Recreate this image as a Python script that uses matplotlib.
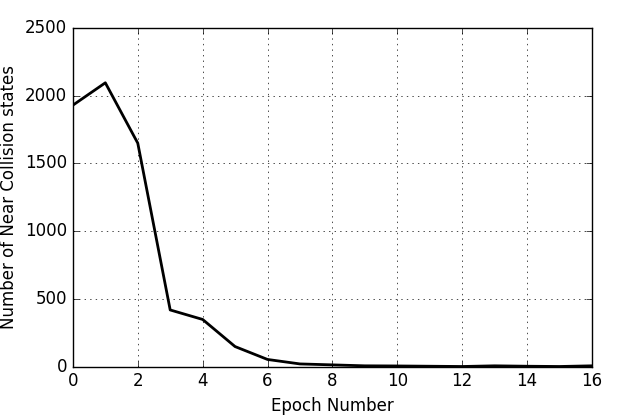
import numpy as np
import matplotlib
matplotlib.use('Agg')
import matplotlib.pyplot as plt

plt.style.use('classic')

#near collision states per epoch
epochs = list(range(17))
near_collision = [1930, 2095, 1650, 420, 350, 150, 55, 22, 15, 8, 7, 5, 3, 8, 5, 3, 8]

fig = plt.figure(figsize=(6.23, 4.16), dpi=100, facecolor='white')
ax = fig.add_subplot(111)
ax.plot(epochs, near_collision, color='black', linewidth=2)
ax.set_xlim(0, 16)
ax.set_ylim(0, 2500)
ax.set_xticks(range(0, 17, 2))
ax.set_yticks(range(0, 2501, 500))
ax.grid(True)
ax.set_xlabel('Epoch Number', fontsize=12)
ax.set_ylabel('Number of Near Collision states', fontsize=12)
ax.tick_params(labelsize=12)
fig.subplots_adjust(left=0.117, right=0.950, top=0.933, bottom=0.118)
fig.savefig('out.png', dpi=100, facecolor='white')
